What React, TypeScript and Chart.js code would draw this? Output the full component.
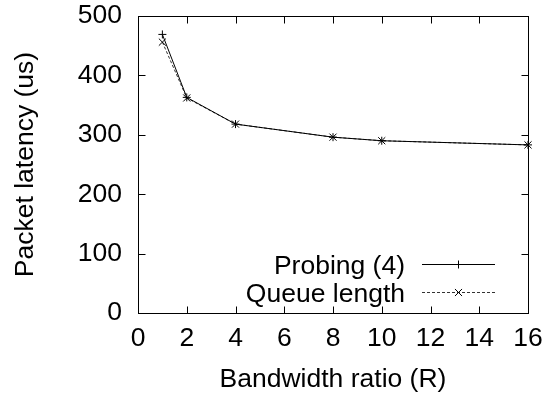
import React, { useEffect, useRef } from "react";
import { Chart, registerables } from "chart.js";

Chart.register(...registerables);

const ratios = [1, 2, 4, 8, 10, 16];
const probing = [469, 363, 318, 296, 290, 283];
const queueLength = [456, 362, 318, 296, 290, 283];
const seriesLabels = ["Probing (4)", "Queue length"];
const xTitle = "Bandwidth ratio (R)";
const yTitle = "Packet latency (us)";

const FONT = "'Liberation Sans', Arial, sans-serif";
const FS = 26.5;

const framePlugin = {
  id: "gnuFrame",
  afterDatasetsDraw(chart: any) {
    const { ctx, chartArea: a, scales } = chart;
    const L = Math.round(a.left) + 0.5;
    const R = Math.round(a.right) + 0.5;
    const T = Math.round(a.top) + 0.5;
    const B = Math.round(a.bottom) + 0.5;
    const tl = 7;
    ctx.save();
    ctx.strokeStyle = "#000";
    ctx.lineWidth = 1;
    ctx.setLineDash([]);
    ctx.strokeRect(L, T, R - L, B - T);
    ctx.beginPath();
    scales.x.ticks.forEach((t: any) => {
      const px = Math.round(scales.x.getPixelForValue(t.value)) + 0.5;
      ctx.moveTo(px, B);
      ctx.lineTo(px, B - tl);
      ctx.moveTo(px, T);
      ctx.lineTo(px, T + tl);
    });
    scales.y.ticks.forEach((t: any) => {
      const py = Math.round(scales.y.getPixelForValue(t.value)) + 0.5;
      ctx.moveTo(L, py);
      ctx.lineTo(L + tl, py);
      ctx.moveTo(R, py);
      ctx.lineTo(R - tl, py);
    });
    ctx.stroke();

    // gnuplot-style key
    const ds = chart.data.datasets;
    const n = ds.length;
    ctx.font = `${FS}px ${FONT}`;
    ctx.fillStyle = "#000";
    ctx.textAlign = "right";
    ctx.textBaseline = "alphabetic";
    ds.forEach((d: any, i: number) => {
      const y = Math.round(a.bottom - 21 - 28 * (n - 1 - i)) + 0.5;
      const textRight = a.right - 123;
      const x0 = a.right - 106;
      const x1 = a.right - 33;
      const xm = (x0 + x1) / 2;
      ctx.fillText(d.label, textRight, y + 9.5);
      ctx.strokeStyle = d.borderColor;
      ctx.lineWidth = 1;
      ctx.setLineDash(d.borderDash || []);
      ctx.beginPath();
      ctx.moveTo(x0, y);
      ctx.lineTo(x1, y);
      ctx.stroke();
      ctx.setLineDash([]);
      ctx.strokeStyle = "#000";
      ctx.beginPath();
      const r = d.pointRadius;
      if (d.pointStyle === "cross") {
        ctx.moveTo(xm - r, y);
        ctx.lineTo(xm + r, y);
        ctx.moveTo(xm, y - r);
        ctx.lineTo(xm, y + r);
      } else {
        const o = r * Math.SQRT1_2;
        ctx.moveTo(xm - o, y - o);
        ctx.lineTo(xm + o, y + o);
        ctx.moveTo(xm - o, y + o);
        ctx.lineTo(xm + o, y - o);
      }
      ctx.stroke();
    });
    ctx.restore();
  },
};

export default function App() {
  const ref = useRef<HTMLCanvasElement>(null);

  useEffect(() => {
    document.body.style.margin = "0";
    const canvas = ref.current!;
    const chart = new Chart(canvas, {
      type: "line",
      data: {
        datasets: [
          {
            label: seriesLabels[0],
            data: ratios.map((x, i) => ({ x, y: probing[i] })),
            borderColor: "#000",
            backgroundColor: "#000",
            borderWidth: 1,
            pointStyle: "cross",
            pointRadius: 4,
            pointBorderWidth: 1,
            pointBorderColor: "#000",
            tension: 0,
            clip: false,
          } as any,
          {
            label: seriesLabels[1],
            data: ratios.map((x, i) => ({ x, y: queueLength[i] })),
            borderColor: "#333",
            backgroundColor: "#000",
            borderWidth: 1,
            borderDash: [3, 2],
            pointStyle: "crossRot",
            pointRadius: 5,
            pointBorderWidth: 1,
            pointBorderColor: "#000",
            tension: 0,
            clip: false,
          } as any,
        ],
      },
      options: {
        animation: false,
        responsive: false,
        devicePixelRatio: 1,
        layout: { padding: { top: 16, right: 29, bottom: 0, left: 0 } },
        plugins: {
          legend: { display: false },
          tooltip: { enabled: false },
        },
        scales: {
          x: {
            type: "linear",
            min: 0,
            max: 16,
            ticks: {
              stepSize: 2,
              padding: 10,
              color: "#000",
              font: { family: FONT, size: FS },
              maxRotation: 0,
            },
            grid: { display: false, drawTicks: false },
            border: { display: false },
            title: {
              display: true,
              text: xTitle,
              color: "#000",
              font: { family: FONT, size: FS },
              padding: { top: 0, bottom: 0 },
            },
            afterFit: (s: any) => {
              s.height = 83;
              s.paddingLeft = 0;
              s.paddingRight = 0;
            },
          },
          y: {
            type: "linear",
            min: 0,
            max: 500,
            ticks: {
              stepSize: 100,
              padding: 16,
              color: "#000",
              font: { family: FONT, size: FS },
            },
            grid: { display: false, drawTicks: false },
            border: { display: false },
            title: {
              display: true,
              text: yTitle,
              color: "#000",
              font: { family: FONT, size: FS },
              padding: { top: 10, bottom: 0 },
            },
            afterFit: (s: any) => {
              s.width = 138;
              s.paddingTop = 0;
              s.paddingBottom = 0;
            },
          },
        },
      },
      plugins: [framePlugin],
    });
    return () => chart.destroy();
  }, []);

  return (
    <div style={{ width: 557, height: 396 }}>
      <canvas ref={ref} width={557} height={396} style={{ display: "block" }} />
    </div>
  );
}
